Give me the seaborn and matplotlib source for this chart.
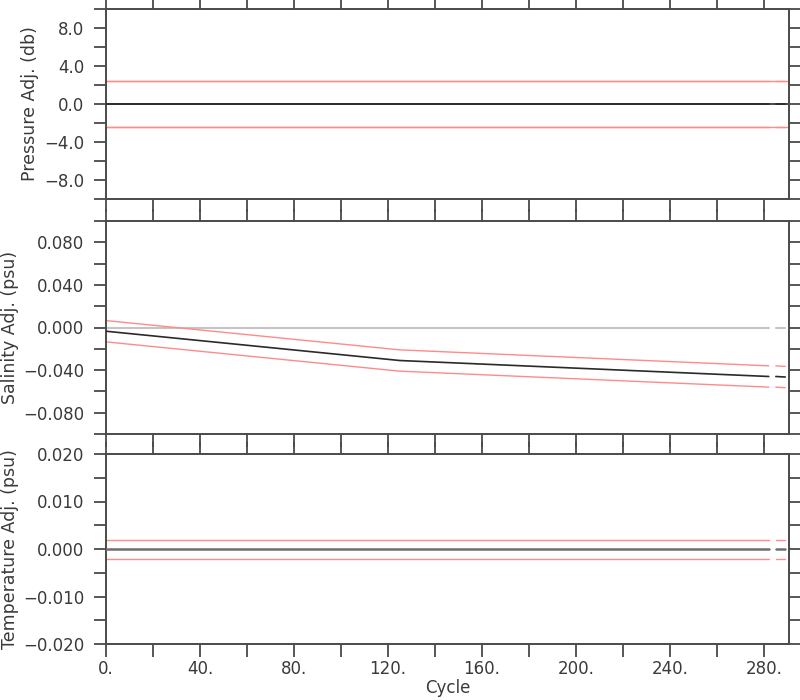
import numpy as np
import pandas as pd
import matplotlib
matplotlib.use("Agg")
import matplotlib.pyplot as plt
import seaborn as sns

# ---- data ----
cycle_seg1 = [0, 125, 282]
cycle_seg2 = [285, 289]

pres_adj_seg1 = [0.0, 0.0, 0.0]
pres_adj_seg2 = [0.0, 0.0]
pres_err = 2.4

psal_adj_seg1 = [-0.0035, -0.031, -0.046]
psal_adj_seg2 = [-0.046, -0.0465]
psal_err = 0.0100

temp_adj_seg1 = [0.0, 0.0, 0.0]
temp_adj_seg2 = [0.0, 0.0]
temp_err = 0.002

x_ticks = [0, 20, 40, 60, 80, 100, 120, 140, 160, 180, 200, 220, 240, 260, 280]
x_ticklabels = ["0.", "", "40.", "", "80.", "", "120.", "", "160.", "", "200.", "", "240.", "", "280."]

p_ticks = [-10, -8, -6, -4, -2, 0, 2, 4, 6, 8, 10]
p_ticklabels = ["", "\u22128.0", "", "\u22124.0", "", "0.0", "", "4.0", "", "8.0", ""]

s_ticks = [-0.1, -0.08, -0.06, -0.04, -0.02, 0.0, 0.02, 0.04, 0.06, 0.08, 0.1]
s_ticklabels = ["", "\u22120.080", "", "\u22120.040", "", "0.000", "", "0.040", "", "0.080", ""]

t_ticks = [-0.02, -0.015, -0.01, -0.005, 0.0, 0.005, 0.01, 0.015, 0.02]
t_ticklabels = ["\u22120.020", "", "\u22120.010", "", "0.000", "", "0.010", "", "0.020"]

ylabels = ["Pressure Adj. (db)", "Salinity Adj. (psu)", "Temperature Adj. (psu)"]
xlabel = "Cycle"

# ---- style ----
sns.set_theme(style="ticks")
plt.rcParams["font.family"] = ["DejaVu Sans"]
TXT = "#3a3a3a"
SP = "#4a4a4a"
RED = "#ff8a8a"
BLK = "#2a2a2a"

fig = plt.figure(figsize=(8, 7), dpi=100)
L, W = 106 / 800, (789 - 106) / 800
boxes = [(9, 199), (221, 434), (454, 644)]
axes = []
for top, bot in boxes:
    ax = fig.add_axes([L, 1 - bot / 700, W, (bot - top) / 700])
    axes.append(ax)

XMAX = 290.6


def seg_df(c, v):
    return pd.DataFrame({"cycle": c, "val": v})


def draw_panel(ax, seg_vals, err, mid_color, mid_lw):
    for c, v in seg_vals:
        d = seg_df(c, v)
        d["up"] = d["val"] + err
        d["lo"] = d["val"] - err
        sns.lineplot(data=d, x="cycle", y="up", ax=ax, color=RED, lw=1.0, zorder=2)
        sns.lineplot(data=d, x="cycle", y="lo", ax=ax, color=RED, lw=1.0, zorder=2)
        sns.lineplot(data=d, x="cycle", y="val", ax=ax, color=mid_color, lw=mid_lw, zorder=3)


# pressure: reference lines across the full panel
axes[0].axhline(0, color=BLK, lw=1.2, zorder=1)
axes[0].axhline(pres_err, color=RED, lw=1.0, zorder=1)
axes[0].axhline(-pres_err, color=RED, lw=1.0, zorder=1)
draw_panel(axes[0], [(cycle_seg1, pres_adj_seg1), (cycle_seg2, pres_adj_seg2)], pres_err,
           BLK, 1.2)

# zero reference line in salinity panel (light gray, same gaps)
for c in (cycle_seg1, cycle_seg2):
    sns.lineplot(x=[c[0], c[-1]], y=[0, 0], ax=axes[1], color="#c4c4c4", lw=1.5, zorder=1)
draw_panel(axes[1], [(cycle_seg1, psal_adj_seg1), (cycle_seg2, psal_adj_seg2)], psal_err,
           BLK, 1.2)

draw_panel(axes[2], [(cycle_seg1, temp_adj_seg1), (cycle_seg2, temp_adj_seg2)], temp_err,
           "#6e6e6e", 1.8)

ylims = [(-10, 10), (-0.1, 0.1), (-0.02, 0.02)]
yt = [(p_ticks, p_ticklabels), (s_ticks, s_ticklabels), (t_ticks, t_ticklabels)]
label_x = [-0.0975, -0.128, -0.128]

for i, ax in enumerate(axes):
    ax.set_xlim(0, XMAX)
    ax.set_ylim(*ylims[i])
    ax.set_xticks(x_ticks)
    if i == 2:
        ax.set_xticklabels(x_ticklabels)
        ax.set_xlabel(xlabel, fontsize=12, color=TXT, labelpad=1)
    else:
        ax.set_xticklabels([])
        ax.set_xlabel("")
    ax.set_yticks(yt[i][0])
    ax.set_yticklabels(yt[i][1])
    ax.set_ylabel(ylabels[i], fontsize=12.5, color=TXT)
    ax.yaxis.set_label_coords(label_x[i], 0.5)
    ax.tick_params(axis="both", which="major", direction="out", length=9, width=1.3,
                   color=SP, labelsize=12, labelcolor=TXT,
                   top=True, right=True, bottom=True, left=True,
                   labeltop=False, labelright=False)
    ax.tick_params(axis="y", pad=6.5)
    ax.tick_params(axis="x", pad=2.5)
    for s in ax.spines.values():
        s.set_visible(True)
        s.set_color(SP)
        s.set_linewidth(1.4)
    ax.set_facecolor("white")
    if ax.get_legend() is not None:
        ax.get_legend().remove()

fig.savefig("out.png", dpi=100, facecolor="white")
